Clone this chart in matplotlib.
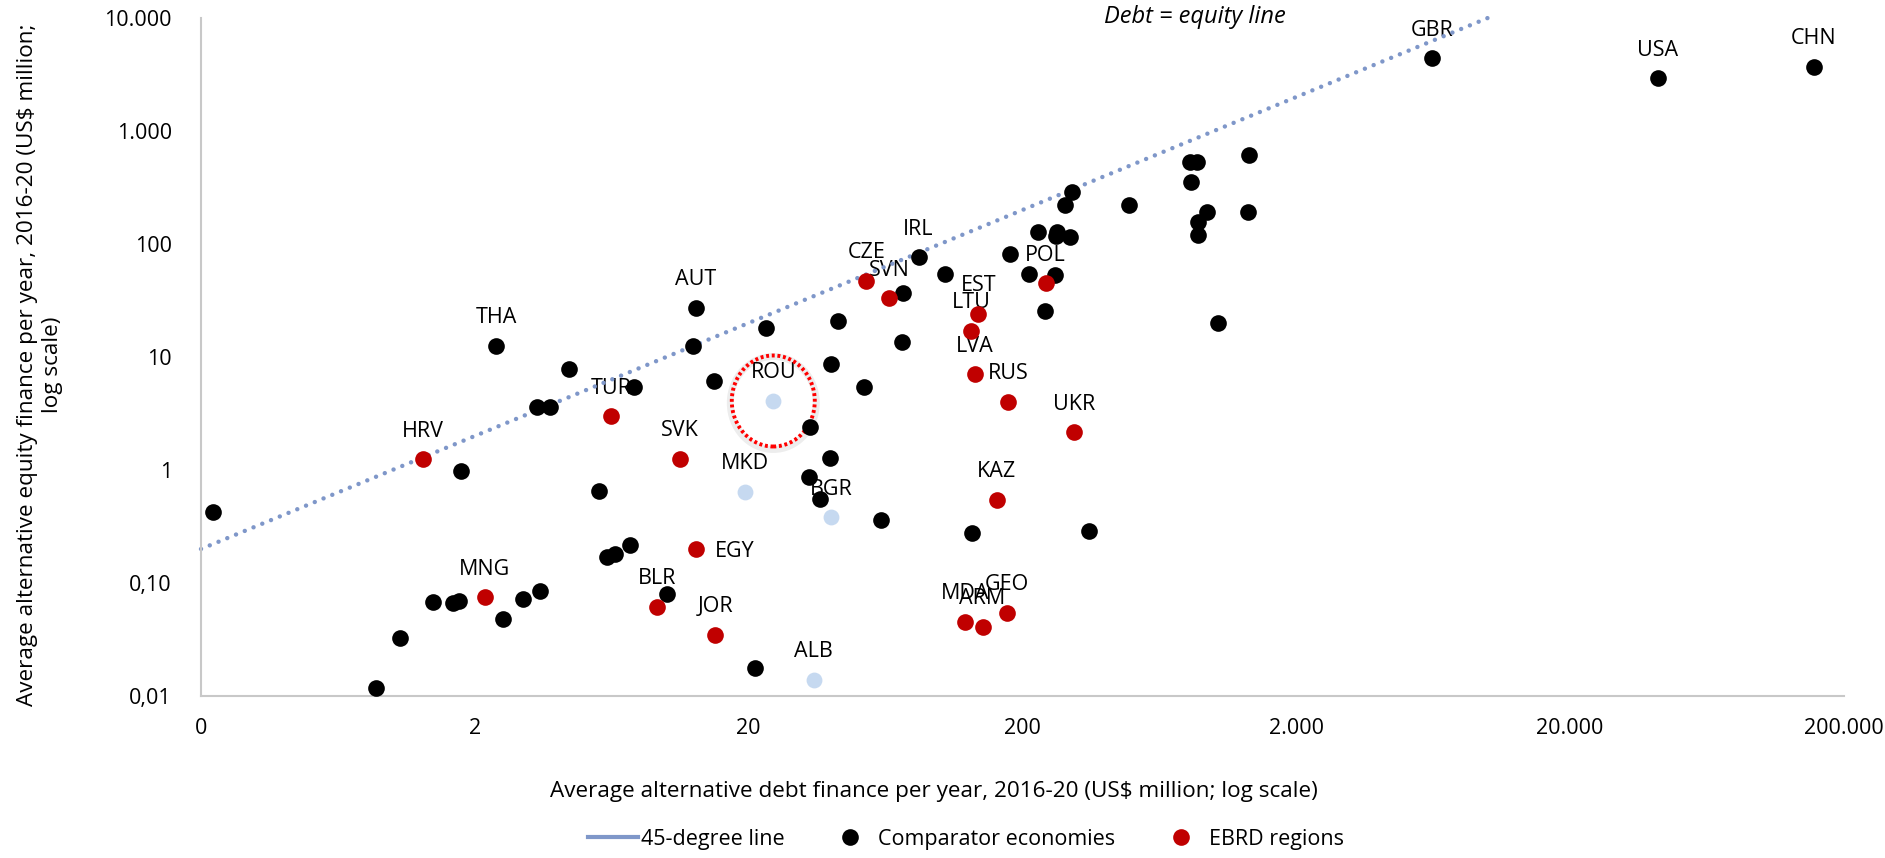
import matplotlib
matplotlib.use("Agg")
import matplotlib.pyplot as plt
from matplotlib.lines import Line2D
from matplotlib.patches import Ellipse
from matplotlib.transforms import ScaledTranslation
from matplotlib.ticker import NullLocator

plt.rcParams['font.family'] = ['Open Sans', 'DejaVu Sans']

# ---------------- data ----------------
# Comparator economies (black)
comp_names = ["", "", "", "", "", "", "", "THA", "", "", "", "", "", "", "", "", "", "", "",
              "", "", "", "AUT", "", "", "", "", "", "", "", "", "", "", "", "", "IRL",
              "", "", "", "", "", "", "", "", "", "", "", "", "", "", "", "", "", "", "",
              "", "", "", "", "GBR", "USA", "CHN"]
comp_debt = [0.222, 0.871, 1.07, 1.41, 1.67, 1.75, 1.78, 2.39, 2.54, 3.01, 3.37, 3.77, 3.46,
             4.40, 5.66, 6.10, 6.51, 7.39, 7.64, 10.1, 15.0, 12.5, 12.8, 21.1, 23.1, 33.4,
             33.3, 36.5, 39.5, 40.1, 42.4, 52.6, 60.7, 73.0, 72.8, 83.5, 104, 131, 180, 212,
             262, 241, 227, 268, 264, 299, 286, 304, 351, 490, 821, 869, 828, 940, 877, 877,
             1037, 1342, 1327, 6280, 41700, 154900]
comp_equity = [0.425, 0.0117, 0.0324, 0.0675, 0.066, 0.0689, 0.98, 12.6, 0.048, 0.072, 3.63,
               3.63, 0.0855, 7.88, 0.65, 0.169, 0.181, 0.217, 5.46, 0.080, 6.1, 12.4, 27.2,
               0.0176, 17.9, 2.39, 0.873, 0.551, 1.29, 8.6, 20.9, 5.46, 0.359, 36.6, 13.6,
               76.7, 54.3, 0.275, 81.1, 54.3, 53.5, 25.7, 128, 128, 118, 116, 220, 290, 0.288,
               220, 535, 535, 354, 193, 157, 120, 19.9, 617, 193, 4400, 2940, 3710]

# EBRD regions (red)
ebrd_names = ["HRV", "TUR", "SVK", "MNG", "BLR", "EGY", "JOR", "CZE", "SVN", "EST", "LTU",
              "LVA", "RUS", "UKR", "KAZ", "POL", "MDA", "ARM", "GEO"]
ebrd_debt = [1.29, 6.31, 11.2, 2.17, 9.29, 12.8, 15.1, 53.8, 65.1, 138, 130, 134, 177, 308,
             161, 243, 123, 143, 176]
ebrd_equity = [1.25, 3.0, 1.26, 0.0747, 0.0616, 0.199, 0.0347, 47.3, 33.0, 24.2, 17.0, 7.03,
               4.0, 2.16, 0.543, 44.9, 0.0452, 0.041, 0.0546]

# Highlighted economies (light blue)
hl_names = ["ROU", "MKD", "BGR", "ALB"]
hl_debt = [24.6, 19.4, 40.1, 34.6]
hl_equity = [4.08, 0.643, 0.381, 0.0139]

# 45-degree line
line_vals = [0.2, 10000]

x_ticks = [0.2, 2, 20, 200, 2000, 20000, 200000]
x_tick_labels = ["0", "2", "20", "200", "2.000", "20.000", "200.000"]
y_ticks = [0.01, 0.1, 1, 10, 100, 1000, 10000]
y_tick_labels = ["0,01", "0,10", "1", "10", "100", "1.000", "10.000"]

legend_labels = ["45-degree line", "Comparator economies", "EBRD regions"]
x_title = "Average alternative debt finance per year, 2016-20 (US$ million; log scale)"
y_title = "Average alternative equity finance per year, 2016-20 (US$ million;\nlog scale)"
note_text = "Debt = equity line"
circled = "ROU"

# ---------------- style ----------------
C_LINE = "#7f97c9"
C_BLACK = "#000000"
C_RED = "#c00000"
C_LB = "#c6d9f0"
FS = 15.5
FS_TITLE = 16.2
MS = 12

W, H = 1885, 858
fig = plt.figure(figsize=(W / 100, H / 100), dpi=100)
ax = fig.add_axes([201 / W, 1 - 696 / H, (1844 - 201) / W, (696 - 18) / H])
ax.set_xscale('log')
ax.set_yscale('log')
ax.set_xlim(x_ticks[0], x_ticks[-1])
ax.set_ylim(y_ticks[0], y_ticks[-1])

ax.set_xticks(x_ticks)
ax.set_xticklabels(x_tick_labels)
ax.set_yticks(y_ticks)
ax.set_yticklabels(y_tick_labels)
ax.xaxis.set_minor_locator(NullLocator())
ax.yaxis.set_minor_locator(NullLocator())
ax.tick_params(axis='both', length=0, labelsize=FS, colors='#000000')
ax.tick_params(axis='y', pad=21)
ax.tick_params(axis='x', pad=16)

for s in ['top', 'right']:
    ax.spines[s].set_visible(False)
for s in ['left', 'bottom']:
    ax.spines[s].set_color('#c8c8c8')
    ax.spines[s].set_linewidth(1.5)

# 45-degree dotted line
ax.plot(line_vals, line_vals, color=C_LINE, lw=3.2, linestyle=(0, (0.01, 2.12)),
        dash_capstyle='round', zorder=2, clip_on=False)

ax.plot(comp_debt, comp_equity, 'o', color=C_BLACK, ms=MS, mew=0, zorder=4, clip_on=False)
ax.plot(ebrd_debt, ebrd_equity, 'o', color=C_RED, ms=MS, mew=0, zorder=5, clip_on=False)
ax.plot(hl_debt, hl_equity, 'o', color=C_LB, ms=MS * 0.95, mew=0, zorder=5, clip_on=False)

label_offsets = {"EGY": (14, -5.5, 'left')}
default_offset = (0, 16.2, 'center')


def add_labels(names, xs, ys):
    for n, xv, yv in zip(names, xs, ys):
        if not n:
            continue
        dx, dy, ha = label_offsets.get(n, default_offset)
        ax.annotate(n, (xv, yv), xytext=(dx, dy), textcoords='offset points',
                    ha=ha, va='baseline', fontsize=FS, zorder=1, annotation_clip=False)


add_labels(comp_names, comp_debt, comp_equity)
add_labels(ebrd_names, ebrd_debt, ebrd_equity)
add_labels(hl_names, hl_debt, hl_equity)

# dotted red circle around highlighted point
i = hl_names.index(circled)
cx, cy = hl_debt[i], hl_equity[i]
shadow = Ellipse((0, -0.02), 0.86, 0.93, fill=False, edgecolor='#000000', alpha=0.07, lw=5,
                 transform=fig.dpi_scale_trans + ScaledTranslation(cx, cy, ax.transData), zorder=3)
ax.add_patch(shadow)
circ = Ellipse((0, 0), 0.83, 0.91, fill=False, edgecolor='#ff0000', lw=2.8,
               linestyle=(0, (0.75, 0.7)),
               transform=fig.dpi_scale_trans + ScaledTranslation(cx, cy, ax.transData), zorder=3)
ax.add_patch(circ)

# texts
fig.text(1195 / W, 1 - 17 / H, note_text, style='italic', fontsize=17, ha='center', va='center')
fig.text(934 / W, 1 - 792 / H, x_title, fontsize=FS_TITLE, ha='center', va='center')
fig.text(40 / W, 1 - 365 / H, y_title, fontsize=FS_TITLE, ha='center', va='center', rotation=90,
         multialignment='center', linespacing=1.25)

handles = [Line2D([], [], color=C_LINE, lw=3),
           Line2D([], [], marker='o', ls='', color=C_BLACK, ms=MS, mew=0),
           Line2D([], [], marker='o', ls='', color=C_RED, ms=MS, mew=0)]
fig.legend(handles, legend_labels, loc='center', bbox_to_anchor=(966 / W, 1 - 839 / H), ncol=3,
           frameon=False, fontsize=FS, handlelength=2.3, handletextpad=0.15, columnspacing=1.9)

fig.savefig("out.png", dpi=100)
